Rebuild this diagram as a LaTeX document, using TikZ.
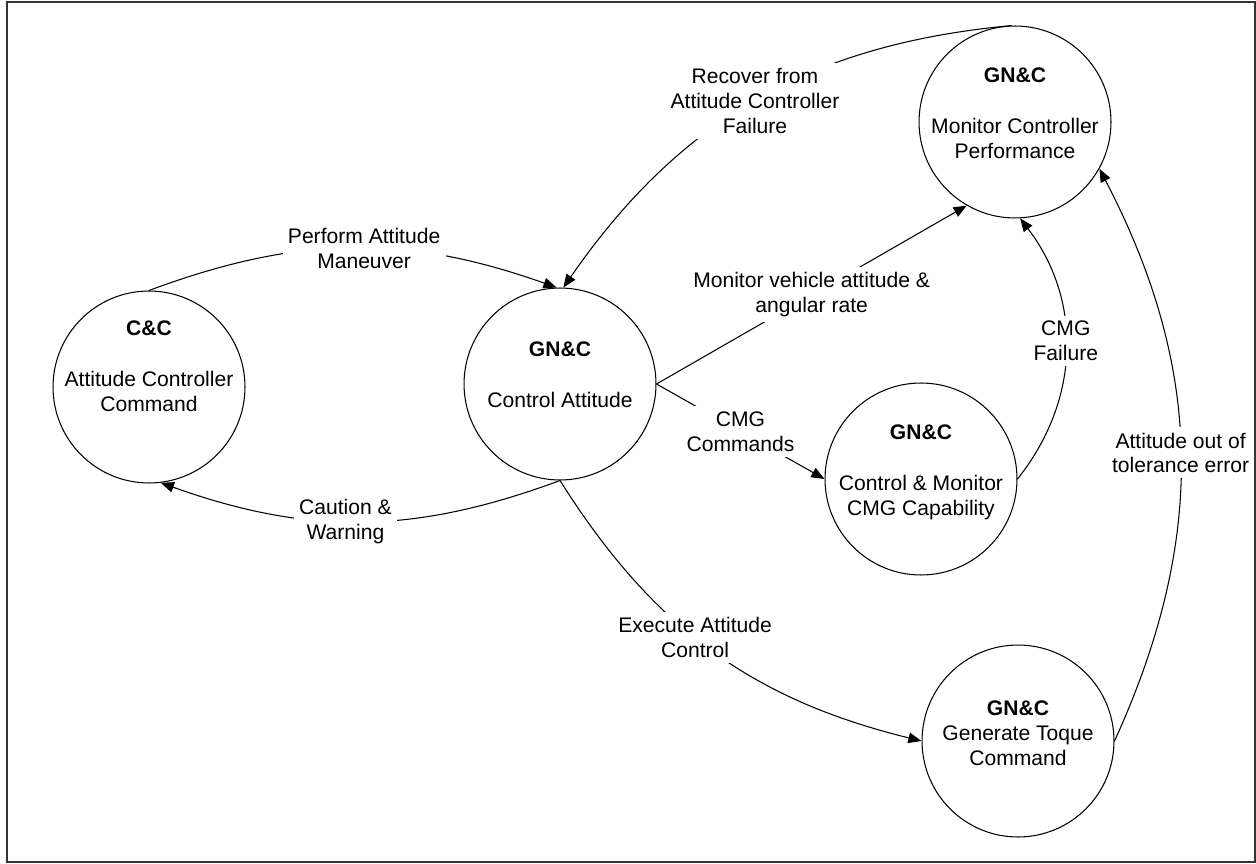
\documentclass[tikz,border=0pt]{standalone}
\usepackage{fontspec}
\setmainfont{Liberation Sans}
\usetikzlibrary{
    arrows.meta
}
\tikzset{
    proc/.style={
        circle, draw=black, line width=0.6pt, fill=none,
        minimum size=3.84cm, inner sep=0pt
    },
    ptext/.style={
        align=center, inner sep=0pt, font=\fontsize{12}{14.2}\selectfont
    },
    flow/.style={-{Triangle[length=7.5pt, width=6pt]}, line width=0.6pt, black},
    flowlbl/.style={
        fill=white, align=center, inner sep=3pt, font=\fontsize{12}{14.2}\selectfont
    },
    frame/.style={draw=black!80, line width=0.9pt},
}

\begin{document}
\begin{tikzpicture}[x=0.02cm, y=-0.02cm]

    \useasboundingbox (0,0) rectangle (1256,864);
    \draw [frame] (7,2) rectangle (1255,862);

    % process bubbles
    \node [proc] (cc)  at (149,387)  {};
    \node [proc] (ca)  at (560,384)  {};
    \node [proc] (mon) at (1015,122) {};
    \node [proc] (cmg) at (921,479)  {};
    \node [proc] (gen) at (1018,741) {};

    \node [ptext] (cc-t)  at (149,366)  {\textbf{C\&C}\\[15pt]Attitude Controller\\Command};
    \node [ptext] (ca-t)  at (560,375)  {\textbf{GN\&C}\\[15pt]Control Attitude};
    \node [ptext] (mon-t) at (1015,113) {\textbf{GN\&C}\\[15pt]Monitor Controller\\Performance};
    \node [ptext] (cmg-t) at (921,472)  {\textbf{GN\&C}\\[15pt]Control \& Monitor\\CMG Capability};
    \node [ptext] (gen-t) at (1018,733) {\textbf{GN\&C}\\Generate Toque\\Command};

    % data flows
    \draw [flow] (cc.north) to[bend left=20]
        node[flowlbl, pos=0.53]{Perform Attitude\\Maneuver} (ca.92);
    \draw [flow] (ca.south) to[bend left=20]
        node[flowlbl, pos=0.54]{Caution \&\\Warning} (cc.-83);
    \draw [flow] (mon.92) to[bend right=25]
        node[flowlbl, pos=0.5]{Recover from\\Attitude Controller\\Failure} (ca.88);
    \draw [flow] (ca.east) --
        node[flowlbl, pos=0.5]{Monitor vehicle attitude \&\\angular rate} (mon.-120);
    \draw [flow] (ca.east) --
        node[flowlbl, pos=0.5]{CMG\\Commands} (cmg.west);
    \draw [flow] (cmg.east) to[bend right=38]
        node[flowlbl, pos=0.53]{CMG\\Failure} (mon.-87);
    \draw [flow] (gen.east) to[bend right=26]
        node[flowlbl, pos=0.5]{Attitude out of\\tolerance error} (mon.-29);
    \draw [flow] (ca.south) to[bend right=22]
        node[flowlbl, pos=0.45]{Execute Attitude\\Control} (gen.west);

\end{tikzpicture}
\end{document}
